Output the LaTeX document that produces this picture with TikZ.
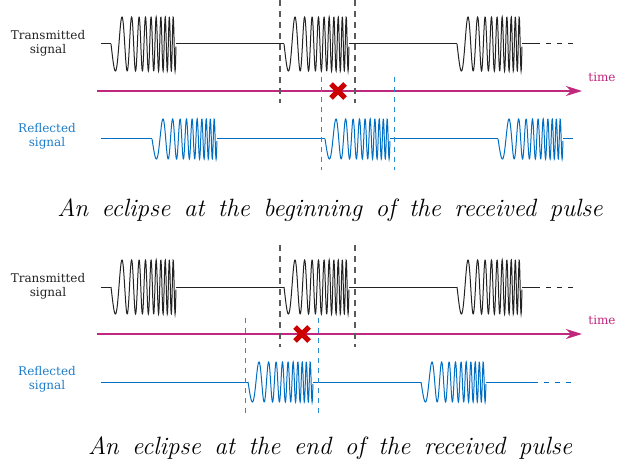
\documentclass[tikz,border=0pt]{standalone}
\usepackage{amsmath}
\usepackage{fontspec}
\usetikzlibrary{arrows.meta}

\newfontfamily\labelfont{DejaVu Serif}

\definecolor{txgray}{RGB}{35,35,35}
\definecolor{rxblue}{RGB}{0,110,195}
\definecolor{rxtext}{RGB}{30,125,200}
\definecolor{timepink}{RGB}{192,40,125}
\definecolor{crossred}{RGB}{205,0,0}
\definecolor{gatedash}{RGB}{90,90,90}
\definecolor{gateblue}{RGB}{40,140,210}

\newcommand{\captionfont}{\fontsize{25}{28}\selectfont\itshape\spaceskip=13.5pt plus 2pt\relax}

\begin{document}
\begin{tikzpicture}[x=1pt, y=-1pt,
        tx/.style={txgray, line width=1pt},
        rx/.style={rxblue, line width=1pt},
        lbl/.style={align=center, font=\labelfont\fontsize{12}{14}\selectfont},
        captiontext/.style={font=\captionfont},
        timeaxis/.style={timepink, line width=1.2pt, -{Stealth[length=16pt, width=10pt, inset=5pt]}},
        txgate/.style={gatedash, line width=1.4pt, dash pattern=on 6pt off 5pt},
        rxgate/.style={gateblue, line width=1pt, dash pattern=on 5pt off 5pt},
        eclipse/.style={crossred, line width=5pt}]
    \useasboundingbox (0,0) rectangle (631,470);

    % eclipse at the beginning
    \begin{scope}
        \node[lbl, txgray] (tx1) at (48,43) {Transmitted\\signal};
        \node[lbl, rxtext] (rx1) at (47,136) {Reflected\\signal};
        \foreach \p in {111,284,457}
            \draw[tx] plot[domain=0:1, samples=300, variable=\u] ({\p+65*\u},{44+27*sin(360*(3.2*\u+7.3*\u*\u))});
        \draw[tx] (101,44) -- (111,44) (176,44) -- (284,44) (349,44) -- (457,44) (522,44) -- (535,44);
        \draw[tx, dash pattern=on 5pt off 6pt] (535,44) -- (577,44);
        \foreach \p in {152,325,498}
            \draw[rx] plot[domain=0:1, samples=300, variable=\u] ({\p+65*\u},{139+20*sin(360*(3.2*\u+7.3*\u*\u))});
        \draw[rx] (101,139) -- (152,139) (217,139) -- (325,139) (390,139) -- (498,139) (563,139) -- (573,139);
        \coordinate (t1a) at (97,91);
        \coordinate (t1b) at (582,91);
        \draw[timeaxis] (t1a) -- (t1b);
        \node[lbl, timepink] (time1) at (602,77) {time};
        \draw[txgate] (280,0) -- (280,103) (355,0) -- (355,103);
        \draw[rxgate] (321,77) -- (321,170) (394,77) -- (394,170);
        \draw[eclipse] (331,84) -- (345,98) (331,98) -- (345,84);
        \node[captiontext] (cap1) at (330,210) {An eclipse at the beginning of the received pulse};
    \end{scope}

    % eclipse at the end
    \begin{scope}[shift={(0,243)}]
        \node[lbl, txgray] (tx2) at (48,43) {Transmitted\\signal};
        \node[lbl, rxtext] (rx2) at (47,136) {Reflected\\signal};
        \foreach \p in {111,284,457}
            \draw[tx] plot[domain=0:1, samples=300, variable=\u] ({\p+65*\u},{44+27*sin(360*(3.2*\u+7.3*\u*\u))});
        \draw[tx] (101,44) -- (111,44) (176,44) -- (284,44) (349,44) -- (457,44) (522,44) -- (535,44);
        \draw[tx, dash pattern=on 5pt off 6pt] (535,44) -- (577,44);
        \foreach \p in {248,421}
            \draw[rx] plot[domain=0:1, samples=300, variable=\u] ({\p+65*\u},{139+20*sin(360*(3.2*\u+7.3*\u*\u))});
        \draw[rx] (101,139) -- (248,139) (313,139) -- (421,139) (486,139) -- (533,139);
        \draw[rx, dash pattern=on 5pt off 6pt] (533,139) -- (573,139);
        \coordinate (t2a) at (97,91);
        \coordinate (t2b) at (582,91);
        \draw[timeaxis] (t2a) -- (t2b);
        \node[lbl, timepink] (time2) at (602,77) {time};
        \draw[txgate] (280,2) -- (280,104) (355,2) -- (355,104);
        \draw[rxgate] (245,75) -- (245,172) (318,75) -- (318,172);
        \draw[eclipse] (295,84) -- (309,98) (295,98) -- (309,84);
        \node[captiontext] (cap2) at (330,205) {An eclipse at the end of the received pulse};
    \end{scope}
\end{tikzpicture}
\end{document}
